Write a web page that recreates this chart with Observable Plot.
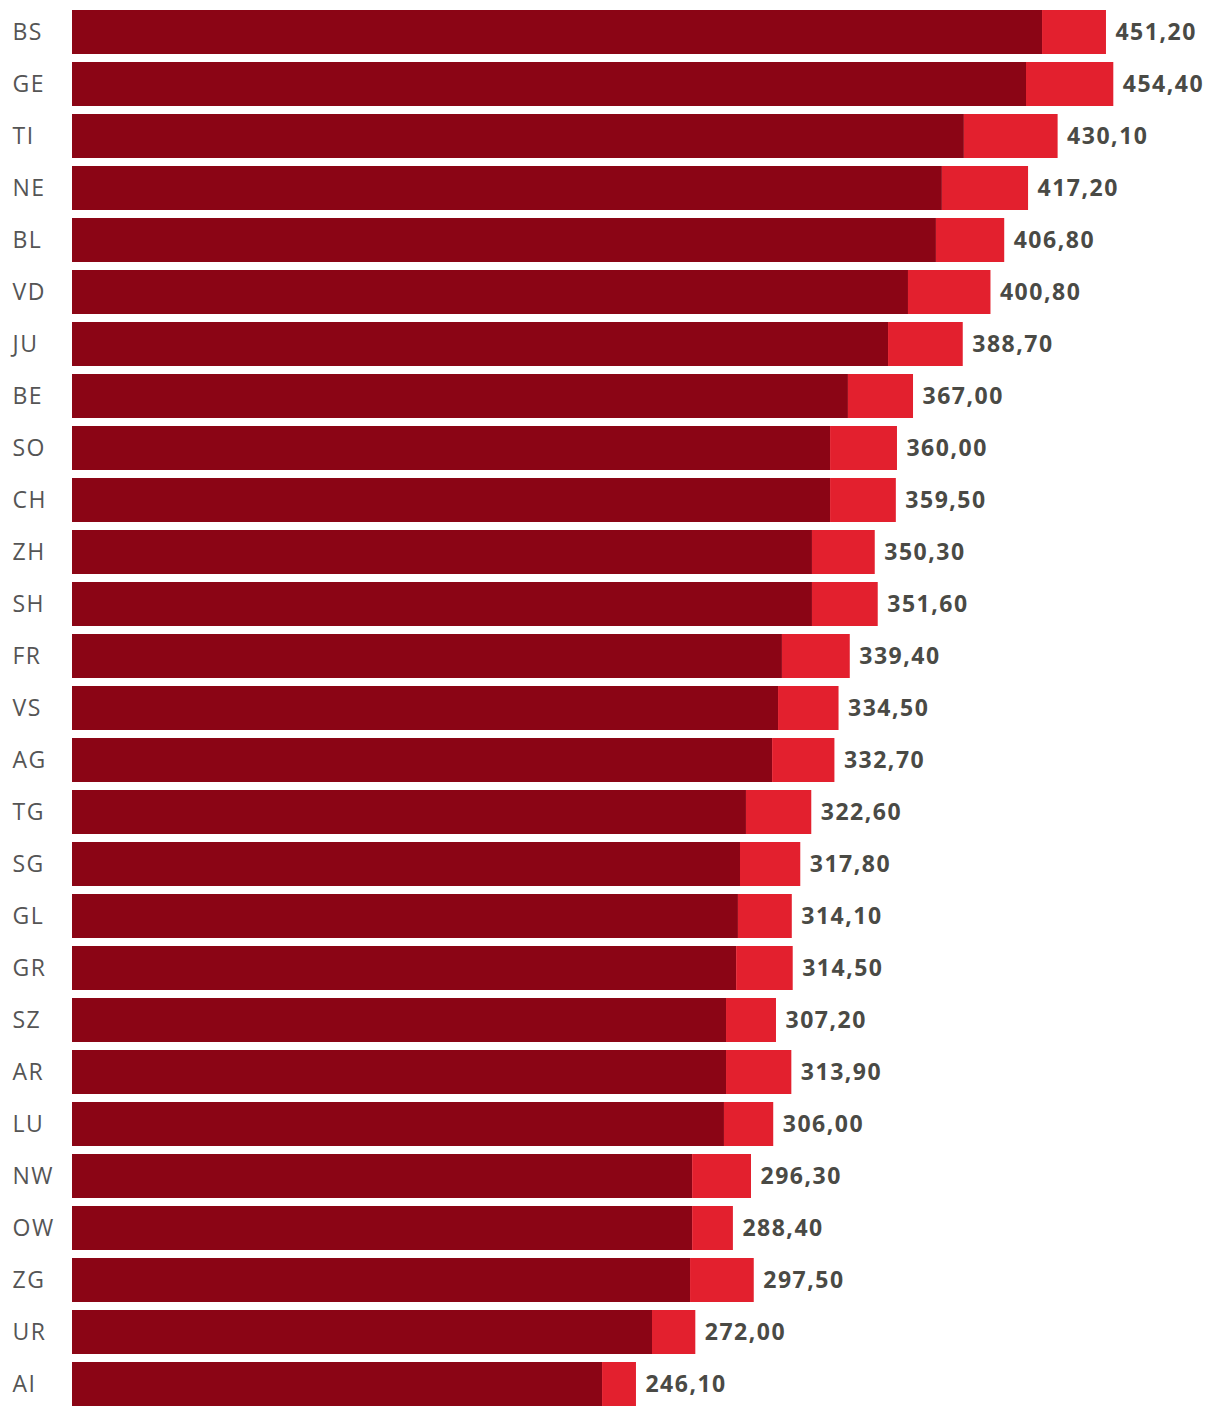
<!DOCTYPE html>
<html>
<head>
<meta charset="utf-8">
<script src="https://cdn.jsdelivr.net/npm/d3@7"></script>
<script src="https://cdn.jsdelivr.net/npm/@observablehq/plot@0.6"></script>
<style>
  html, body { margin: 0; padding: 0; background: #fff; }
  #chart svg { display: block; }
  #chart svg text { letter-spacing: 1.5px; }
</style>
</head>
<body>
<div id="chart"></div>
<script>
const cantons = ["BS","GE","TI","NE","BL","VD","JU","BE","SO","CH","ZH","SH","FR","VS","AG","TG","SG","GL","GR","SZ","AR","LU","NW","OW","ZG","UR","AI"];
const totals = [451.2,454.4,430.1,417.2,406.8,400.8,388.7,367.0,360.0,359.5,350.3,351.6,339.4,334.5,332.7,322.6,317.8,314.1,314.5,307.2,313.9,306.0,296.3,288.4,297.5,272.0,246.1];
const baseValues = [423.3,416.3,389.2,379.6,377.0,364.8,356.1,338.6,330.8,330.8,322.9,322.9,309.8,308.1,305.5,294.1,291.5,290.6,289.8,285.4,285.4,284.5,270.6,270.6,269.7,253.1,231.3];

const rows = cantons.map((c, i) => ({canton: c, base: baseValues[i], total: totals[i]}));
const fmt = v => v.toFixed(2).replace(".", ",");

const chart = Plot.plot({
  width: 1220,
  height: 1416,
  marginLeft: 72,
  marginRight: 106.7,
  marginTop: 6,
  marginBottom: 6,
  style: {fontFamily: "'Open Sans', sans-serif", background: "#fff"},
  x: {domain: [0, 454.4], axis: null},
  y: {domain: cantons, axis: null, paddingInner: 8/52, paddingOuter: 4/52},
  marks: [
    Plot.barX(rows, {y: "canton", x1: 0, x2: "base", fill: "#8b0515"}),
    Plot.barX(rows, {y: "canton", x1: "base", x2: "total", fill: "#e3202e"}),
    Plot.text(rows, {y: "canton", frameAnchor: "left", dx: -60, textAnchor: "start", text: "canton", fill: "#555555", fontSize: 23, fontWeight: 400}),
    Plot.text(rows, {y: "canton", x: "total", dx: 9, textAnchor: "start", text: d => fmt(d.total), fill: "#4a4a45", fontSize: 23, fontWeight: 700})
  ]
});
document.getElementById("chart").appendChild(chart);
</script>
</body>
</html>
